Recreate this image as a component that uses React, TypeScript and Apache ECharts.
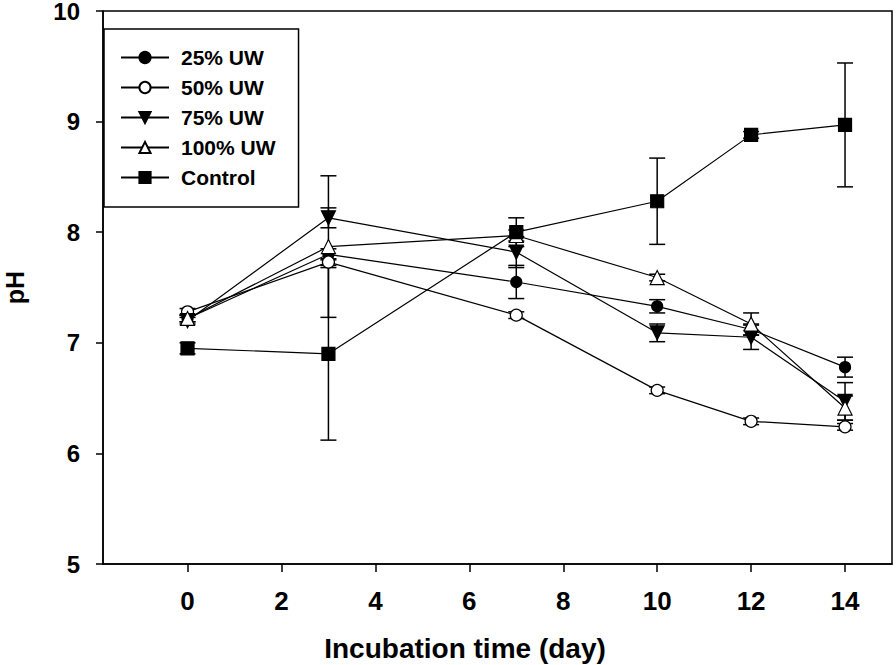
import React, { useEffect, useRef } from "react";
import * as echarts from "echarts";

const days = [0, 3, 7, 10, 12, 14];
const seriesNames = ["25% UW", "50% UW", "75% UW", "100% UW", "Control"];
const uw25 = [7.22, 7.8, 7.55, 7.33, 7.12, 6.78];
const uw50 = [7.28, 7.73, 7.25, 6.57, 6.29, 6.24];
const uw75 = [7.2, 8.13, 7.82, 7.09, 7.05, 6.47];
const uw100 = [7.22, 7.87, 7.97, 7.59, 7.17, 6.41];
const control = [6.95, 6.9, 8.0, 8.28, 8.88, 8.97];
const err25 = [0.03, 0.05, 0.15, 0.06, 0.05, 0.09];
const err50 = [0.03, 0.03, 0.03, 0.03, 0.03, 0.03];
const err75 = [0.03, 0.09, 0.14, 0.08, 0.11, 0.17];
const err100 = [0.03, 0.64, 0.05, 0.03, 0.1, 0.11];
const errControl = [0.05, 0.78, 0.13, 0.39, 0.03, 0.56];
const xTicks = [0, 2, 4, 6, 8, 10, 12, 14];

const FONT = '"Liberation Sans", Arial, sans-serif';

export default function App() {
  const ref = useRef<HTMLDivElement>(null);
  useEffect(() => {
    if (!ref.current) return;
    const chart = echarts.init(ref.current, undefined, { renderer: "svg" });
    const values = [uw25, uw50, uw75, uw100, control];
    const errs = [err25, err50, err75, err100, errControl];
    const symbols = [
      { symbol: "circle", size: 11, fill: "#000", rotate: 0 },
      { symbol: "circle", size: 12, fill: "#fff", rotate: 0 },
      { symbol: "triangle", size: 14, fill: "#000", rotate: 180 },
      { symbol: "triangle", size: 14, fill: "#fff", rotate: 0 },
      { symbol: "rect", size: 13, fill: "#000", rotate: 0 },
    ];
    const errData: number[][] = [];
    values.forEach((vals, si) => {
      vals.forEach((v, i) => {
        errData.push([days[i], v - errs[si][i], v + errs[si][i]]);
      });
    });
    const lineSeries = values.map((vals, si) => ({
      name: seriesNames[si],
      type: "line",
      data: vals.map((v, i) => [days[i], v]),
      symbol: symbols[si].symbol,
      symbolSize: symbols[si].size,
      symbolRotate: symbols[si].rotate,
      lineStyle: { color: "#000", width: 1.2 },
      itemStyle: { color: symbols[si].fill, borderColor: "#000", borderWidth: 1.2 },
      z: 3,
    }));
    const option: any = {
      animation: false,
      backgroundColor: "#fff",
      grid: {
        left: 103,
        top: 11,
        right: 4,
        bottom: 101,
        show: true,
        borderColor: "#000",
        borderWidth: 1.5,
        containLabel: false,
        outerBoundsMode: "none",
      },
      xAxis: {
        type: "value",
        min: -1.8,
        max: 15,
        axisLine: { show: true, onZero: false, lineStyle: { color: "#000", width: 1.5 } },
        axisTick: { show: true, length: 8, customValues: xTicks, lineStyle: { color: "#000", width: 1.5 } },
        axisLabel: {
          customValues: xTicks,
          margin: 24,
          color: "#000",
          fontSize: 26,
          fontWeight: "bold",
          fontFamily: FONT,
        },
        splitLine: { show: false },
      },
      yAxis: {
        type: "value",
        min: 5,
        max: 10,
        interval: 1,
        name: "pH",
        nameLocation: "middle",
        nameGap: 76,
        nameTextStyle: { color: "#000", fontSize: 25, lineHeight: 24, fontWeight: "bold", fontFamily: FONT },
        axisLine: { show: true, onZero: false, lineStyle: { color: "#000", width: 1.5 } },
        axisTick: { show: true, length: 7, lineStyle: { color: "#000", width: 1.5 } },
        axisLabel: {
          margin: 23,
          color: "#000",
          fontSize: 24,
          lineHeight: 20,
          padding: [3, 0, 0, 0],
          fontWeight: "bold",
          fontFamily: FONT,
        },
        splitLine: { show: false },
      },
      legend: {
        data: seriesNames,
        orient: "vertical",
        left: 104,
        top: 29,
        padding: [18, 23, 19, 16],
        itemWidth: 48,
        itemHeight: 14,
        itemGap: 9,
        borderColor: "#000",
        borderWidth: 1.5,
        backgroundColor: "#fff",
        textStyle: {
          color: "#000",
          fontSize: 21,
          lineHeight: 21,
          fontWeight: "bold",
          fontFamily: FONT,
          padding: [0, 0, 0, 7],
        },
      },
      graphic: [
        {
          type: "text",
          x: 465,
          y: 648,
          style: {
            text: "Incubation time (day)",
            fill: "#000",
            font: `bold 28px ${FONT}`,
            textAlign: "center",
            textVerticalAlign: "middle",
          },
        },
      ],
      series: [
        {
          type: "custom",
          name: "errorbars",
          data: errData,
          encode: { x: 0, y: [1, 2] },
          z: 2,
          renderItem: (params: any, api: any) => {
            const x = api.value(0);
            const lo = api.value(1);
            const hi = api.value(2);
            const p1 = api.coord([x, hi]);
            const p2 = api.coord([x, lo]);
            const w = 8;
            const style = { stroke: "#000", lineWidth: 1.5 };
            return {
              type: "group",
              children: [
                { type: "line", shape: { x1: p1[0], y1: p1[1], x2: p2[0], y2: p2[1] }, style },
                { type: "line", shape: { x1: p1[0] - w, y1: p1[1], x2: p1[0] + w, y2: p1[1] }, style },
                { type: "line", shape: { x1: p2[0] - w, y1: p2[1], x2: p2[0] + w, y2: p2[1] }, style },
              ],
            };
          },
        },
        ...lineSeries,
      ],
    };
    chart.setOption(option);
    return () => chart.dispose();
  }, []);
  return (
    <div
      ref={ref}
      style={{ position: "fixed", left: 0, top: 0, width: 896, height: 665, background: "#fff" }}
    />
  );
}
